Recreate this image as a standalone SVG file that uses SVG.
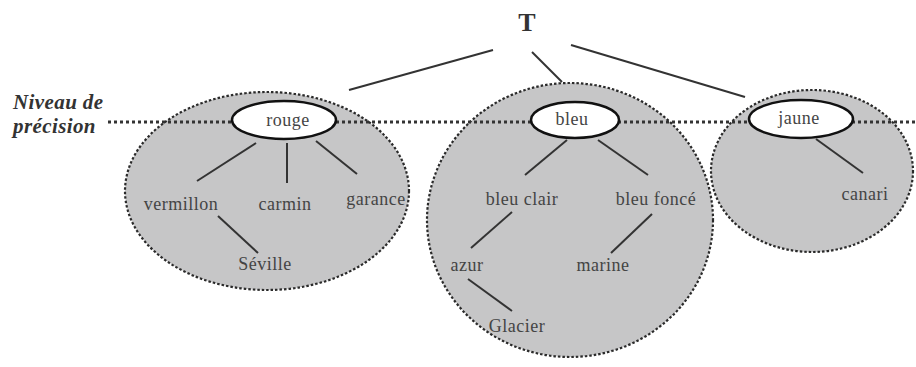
<svg xmlns="http://www.w3.org/2000/svg" width="916" height="367" viewBox="0 0 916 367">
<style>
.grp{fill:#c6c6c7;stroke:#2a2a2a;stroke-width:2.2;stroke-dasharray:2.5 2}
.lvl{stroke:#333;stroke-width:3.2;stroke-dasharray:3 3;fill:none}
.node{fill:#fff;stroke:#111;stroke-width:2.5}
.t{font-family:'Liberation Serif',serif;font-size:18px;fill:#444;text-anchor:middle;letter-spacing:0.5px}
.edges line{stroke:#333;stroke-width:2}
.lab{font-family:'Liberation Serif',serif;font-size:21px;font-weight:bold;font-style:italic;fill:#333;letter-spacing:0.4px}
</style>
<rect width="916" height="367" fill="#fff"/>
<g id="groups">
<ellipse id="grp-rouge" class="grp" cx="267" cy="191" rx="142" ry="99"/>
<ellipse id="grp-bleu" class="grp" cx="570" cy="220" rx="143" ry="137"/>
<ellipse id="grp-jaune" class="grp" cx="812" cy="171" rx="101" ry="81"/>
</g>
<g id="level">
<line class="lvl" x1="108" y1="122" x2="916" y2="122"/>
<text class="lab" x="13" y="109">Niveau de</text>
<text class="lab" x="13" y="133">précision</text>
</g>
<g class="edges" id="connectors">
<line x1="493" y1="50" x2="349" y2="90"/>
<line x1="532" y1="52" x2="562" y2="82"/>
<line x1="571" y1="45" x2="745" y2="97"/>
<line x1="256" y1="143" x2="197" y2="181"/>
<line x1="287" y1="143" x2="287" y2="183"/>
<line x1="316" y1="141" x2="357" y2="174"/>
<line x1="218" y1="216" x2="258" y2="253"/>
<line x1="567" y1="140" x2="525" y2="175"/>
<line x1="598" y1="140" x2="648" y2="175"/>
<line x1="512" y1="212" x2="471" y2="248"/>
<line x1="652" y1="214" x2="611" y2="253"/>
<line x1="468" y1="279" x2="512" y2="311"/>
<line x1="816" y1="139" x2="863" y2="173"/>
</g>
<g id="T"><text x="527" y="31" font-family="'Liberation Serif', serif" font-size="26" font-weight="bold" fill="#333" text-anchor="middle">T</text></g>
<g id="rouge"><ellipse class="node" cx="284" cy="120" rx="52" ry="19"/><text class="t" x="288" y="126">rouge</text></g>
<g id="bleu"><ellipse class="node" cx="575" cy="120" rx="44" ry="18"/><text class="t" x="572" y="125">bleu</text></g>
<g id="jaune"><ellipse class="node" cx="801" cy="119" rx="52" ry="19"/><text class="t" x="799" y="124">jaune</text></g>
<g id="vermillon"><text class="t" x="181" y="210">vermillon</text></g>
<g id="carmin"><text class="t" x="285" y="210">carmin</text></g>
<g id="garance"><text class="t" x="376" y="205">garance</text></g>
<g id="seville"><text class="t" x="265" y="270">Séville</text></g>
<g id="bleu-clair"><text class="t" x="522" y="205">bleu clair</text></g>
<g id="bleu-fonce"><text class="t" x="656" y="205">bleu foncé</text></g>
<g id="azur"><text class="t" x="467" y="271">azur</text></g>
<g id="marine"><text class="t" x="603" y="271">marine</text></g>
<g id="glacier"><text class="t" x="517" y="332">Glacier</text></g>
<g id="canari"><text class="t" x="865" y="200">canari</text></g>
</svg>
